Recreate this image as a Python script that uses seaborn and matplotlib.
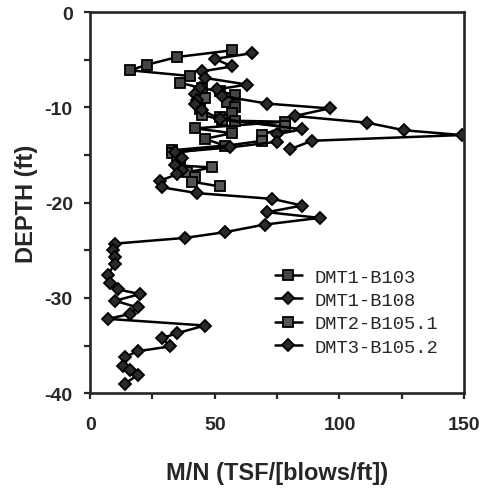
import pandas as pd
import seaborn as sns
import matplotlib.pyplot as plt
from matplotlib.ticker import MultipleLocator

# Depth profiles of M/N ratio
b103_depth = [-4.0, -4.7, -5.5, -6.1, -6.7, -7.4, -8.0, -8.3, -8.7, -9.4, -10.0,
              -10.6, -11.0, -11.4, -11.5, -12.2, -12.7, -13.3, -14.0, -14.5]
b103_mn = [57, 35, 23, 16, 40, 36, 45, 52, 58, 55, 58,
           57, 52, 58, 78, 42, 57, 46, 54, 33]

b108_depth = [-4.3, -4.9, -5.7, -6.2, -6.9, -7.6, -8.1, -8.8, -9.6, -10.1, -10.9,
              -11.6, -12.4, -12.9, -13.5, -14.4]
b108_mn = [65, 50, 57, 45, 46, 63, 51, 53, 71, 96, 82,
           111, 126, 149, 89, 80]

b1051_depth = [-9.0, -10.2, -10.8, -11.3, -12.0, -12.9, -13.5, -14.8, -15.5,
               -16.1, -16.3, -16.8, -17.3, -17.8, -18.3]
b1051_mn = [46, 44, 45, 53, 78, 69, 69, 33, 35, 36, 49, 39, 42, 41, 52]

b1052_depth = [-8.0, -8.6, -9.2, -9.6, -10.3, -11.2, -12.3, -12.8, -13.6, -14.2,
               -14.7, -15.3, -16.0, -16.6, -17.0, -17.7, -18.4, -19.0, -19.6,
               -20.3, -21.0, -21.6, -22.3, -23.1, -23.7, -24.3, -25.0, -25.7,
               -26.4, -27.6, -28.4, -29.1, -29.6, -30.3, -31.0, -31.7, -32.2,
               -32.9, -33.7, -34.2, -35.1, -35.6, -36.2, -37.1, -37.6, -38.1, -39.0]
b1052_mn = [44, 42, 43, 42, 45, 52, 85, 75, 75, 56,
            34, 37, 34, 37, 35, 28, 29, 43, 73,
            85, 71, 92, 70, 54, 38, 10, 9, 10,
            10, 7, 8, 11, 20, 10, 19, 16, 7,
            46, 35, 29, 32, 19, 14, 13, 16, 19, 14]

series = [
    ("DMT1-B103", b103_depth, b103_mn, "s", "#444444"),
    ("DMT1-B108", b108_depth, b108_mn, "D", "#2a2a2a"),
    ("DMT2-B105.1", b1051_depth, b1051_mn, "s", "#555555"),
    ("DMT3-B105.2", b1052_depth, b1052_mn, "D", "#2a2a2a"),
]

sns.set_style("ticks")
plt.rcParams['axes.unicode_minus'] = False
plt.rcParams['font.family'] = ['Liberation Sans', 'DejaVu Sans']

fig = plt.figure(figsize=(4.82, 4.89), dpi=100)
ax = fig.add_axes([0.187, 0.194, 0.776, 0.779])

for name, depth, mn, marker, face in series:
    df = pd.DataFrame({"mn": mn, "depth": depth})
    sns.lineplot(data=df, x="mn", y="depth", sort=False, estimator=None,
                 color="black", lw=1.8, marker=marker,
                 markersize=7 if marker == "s" else 6,
                 markerfacecolor=face, markeredgecolor="black",
                 markeredgewidth=1.3, label=name, ax=ax)

ax.set_xlim(0, 150)
ax.set_ylim(-40, 0)
ax.xaxis.set_major_locator(MultipleLocator(50))
ax.xaxis.set_minor_locator(MultipleLocator(25))
ax.yaxis.set_major_locator(MultipleLocator(10))
ax.yaxis.set_minor_locator(MultipleLocator(5))
ax.tick_params(which="both", direction="out", width=1.6, length=4.5,
               labelsize=14)
ax.tick_params(axis="x", pad=12)
ax.tick_params(axis="y", pad=8)
for lab in ax.get_xticklabels() + ax.get_yticklabels():
    lab.set_fontweight("bold")
for sp in ax.spines.values():
    sp.set_visible(True)
    sp.set_linewidth(1.9)

ax.set_xlabel("M/N (TSF/[blows/ft])", fontsize=17, fontweight="bold", labelpad=20)
ax.set_ylabel("DEPTH (ft)", fontsize=17, fontweight="bold", labelpad=5)

leg = ax.legend(loc="upper left", bbox_to_anchor=(0.475, 0.347), frameon=False,
                prop={"family": "Liberation Mono", "size": 13.5},
                handlelength=1.4, handletextpad=0.7, labelspacing=0.33,
                borderaxespad=0)

fig.savefig("out.png", dpi=100)
